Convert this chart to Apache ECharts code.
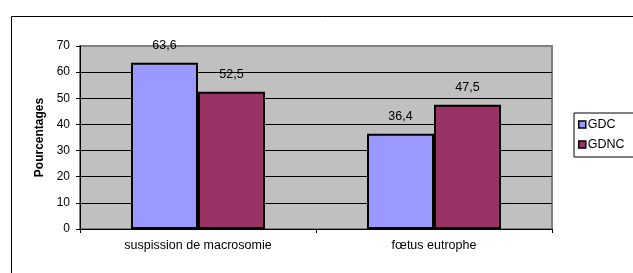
<!DOCTYPE html>
<html><head><meta charset="utf-8">
<script src="https://cdn.jsdelivr.net/npm/echarts@6/dist/echarts.min.js"></script>
<style>html,body{margin:0;padding:0;background:#fff}#c{width:633px;height:273px}</style>
</head><body><div id="c"></div>
<script>
const categories = ['suspission de macrosomie', 'fœtus eutrophe'];
const seriesNames = ['GDC', 'GDNC'];
const gdcValues = [63.6, 36.4];
const gdncValues = [52.5, 47.5];
const yTicks = [0, 10, 20, 30, 40, 50, 60, 70];

const FONT = '"Liberation Sans", Arial, sans-serif';
const chart = echarts.init(document.getElementById('c'));
const labelCfg = {
  show: true, position: 'top', distance: 11, color: '#000',
  fontFamily: FONT, fontSize: 12.5,
  formatter: p => String(p.value).replace('.', ',')
};
chart.setOption({
  animation: false,
  textStyle: { fontFamily: FONT },
  graphic: [{
    type: 'rect', left: 9, top: 14, z: -10,
    shape: { width: 700, height: 320 },
    style: { fill: 'none', stroke: '#000', lineWidth: 1 }
  }],
  grid: {
    left: 80, right: 81, top: 46, bottom: 44,
    show: true, backgroundColor: '#C0C0C0', borderColor: '#808080', borderWidth: 2
  },
  legend: {
    orient: 'vertical', left: 574, top: 113,
    data: seriesNames,
    backgroundColor: '#fff',
    borderColor: '#000', borderWidth: 1,
    padding: [5, 14, 6, 4],
    itemGap: 7, itemWidth: 7, itemHeight: 7, icon: 'rect',
    itemStyle: { borderColor: '#000', borderWidth: 1.5 },
    textStyle: { fontFamily: FONT, fontSize: 12.5, color: '#000', padding: [0, 0, 0, -3] }
  },
  xAxis: {
    type: 'category', data: categories,
    axisLine: { lineStyle: { color: '#000', width: 1 } },
    axisTick: { show: true, length: 4, lineStyle: { color: '#000' } },
    axisLabel: { color: '#000', fontSize: 12.5, fontFamily: FONT, margin: 10 }
  },
  yAxis: {
    type: 'value', min: 0, max: 70, interval: 10,
    name: 'Pourcentages', nameLocation: 'middle', nameGap: 31,
    nameTextStyle: { fontWeight: 'bold', fontSize: 12, color: '#000', fontFamily: FONT },
    axisLine: { show: true, lineStyle: { color: '#000', width: 1 } },
    axisTick: { show: true, length: 4, lineStyle: { color: '#000' } },
    axisLabel: { color: '#000', fontSize: 12, fontFamily: FONT, margin: 10,
      formatter: v => yTicks.includes(v) ? String(v) : '' },
    splitLine: { show: true, showMaxLine: false, showMinLine: false, lineStyle: { color: '#000', width: 1 } }
  },
  series: [
    { name: seriesNames[0], type: 'bar', data: gdcValues, barWidth: 67, barGap: '0%',
      itemStyle: { color: '#9999FF', borderColor: '#000', borderWidth: 2 }, label: labelCfg },
    { name: seriesNames[1], type: 'bar', data: gdncValues, barWidth: 67,
      itemStyle: { color: '#993366', borderColor: '#000', borderWidth: 2 }, label: labelCfg }
  ]
});
</script></body></html>
